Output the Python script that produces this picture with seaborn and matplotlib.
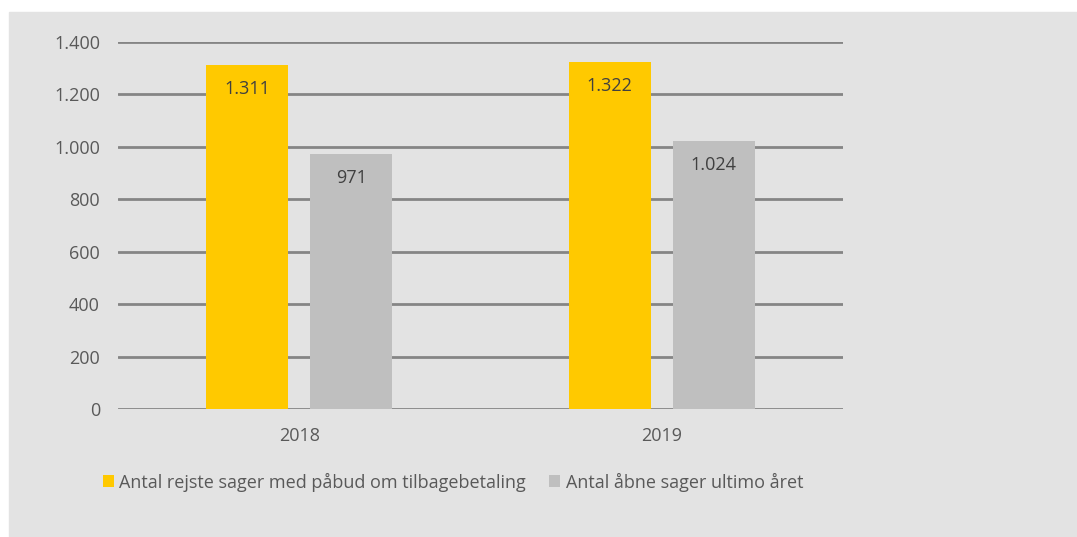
import pandas as pd
import matplotlib
matplotlib.use('Agg')
import matplotlib.pyplot as plt
import matplotlib.patches as mpatches
from matplotlib.ticker import FuncFormatter
import seaborn as sns

years = ['2018', '2019']
serie_navne = ['Antal rejste sager med påbud om tilbagebetaling', 'Antal åbne sager ultimo året']
rejste_sager = [1311, 1322]
aabne_sager = [971, 1024]
farver = ['#FFC900', '#BFBFBF']

BG = '#E3E3E3'
TXT = '#595959'

sns.set_theme(style='white')
plt.rcParams['font.family'] = ['Open Sans', 'DejaVu Sans']

df = pd.DataFrame({
    'år': years * 2,
    'serie': [serie_navne[0]] * 2 + [serie_navne[1]] * 2,
    'antal': rejste_sager + aabne_sager,
})

fig = plt.figure(figsize=(10.77, 5.37), dpi=100)
fig.patch.set_facecolor('white')
# grå baggrundsflade
fig.patches.append(mpatches.Rectangle((9 / 1077, 0), 1, (537 - 12) / 537,
                                      transform=fig.transFigure, color=BG, zorder=-10))

ax = fig.add_axes([118 / 1077, 1 - 409 / 537, 725 / 1077, 367 / 537])
ax.set_facecolor(BG)

sns.barplot(data=df, x='år', y='antal', hue='serie', palette=farver, saturation=1,
            width=0.573, gap=0.21, linewidth=0, ax=ax, zorder=3, legend=True)

ax.set_ylim(0, 1400)
ax.set_xlim(-0.5, 1.5)
ax.set_yticks(range(0, 1401, 200))
ax.yaxis.set_major_formatter(FuncFormatter(lambda v, p: f'{int(v):,}'.replace(',', '.')))
ax.grid(axis='y', color='#858585', linewidth=2)
ax.set_axisbelow(True)
for s in ax.spines.values():
    s.set_visible(False)
ax.tick_params(axis='both', length=0, colors=TXT, labelsize=13)
ax.tick_params(axis='y', pad=13)
ax.tick_params(axis='x', pad=13)
ax.set_xlabel('')
ax.set_ylabel('')

# værdier inde i søjlerne
for cont in ax.containers:
    for rect in cont:
        v = rect.get_height()
        ax.annotate(f'{int(v):,}'.replace(',', '.'),
                    (rect.get_x() + rect.get_width() / 2, v),
                    xytext=(0, -24), textcoords='offset pixels',
                    ha='center', va='center', fontsize=13, color='#404040')

handles, labels = ax.get_legend_handles_labels()
ax.legend(handles, labels, loc='center', bbox_to_anchor=(453 / 1077, 1 - 482 / 537),
          bbox_transform=fig.transFigure, ncol=2, frameon=False,
          handlelength=0.6, handleheight=0.6, handletextpad=0.3, columnspacing=1.3,
          fontsize=13, labelcolor=TXT)

plt.savefig('out.png', dpi=100, facecolor='white')
